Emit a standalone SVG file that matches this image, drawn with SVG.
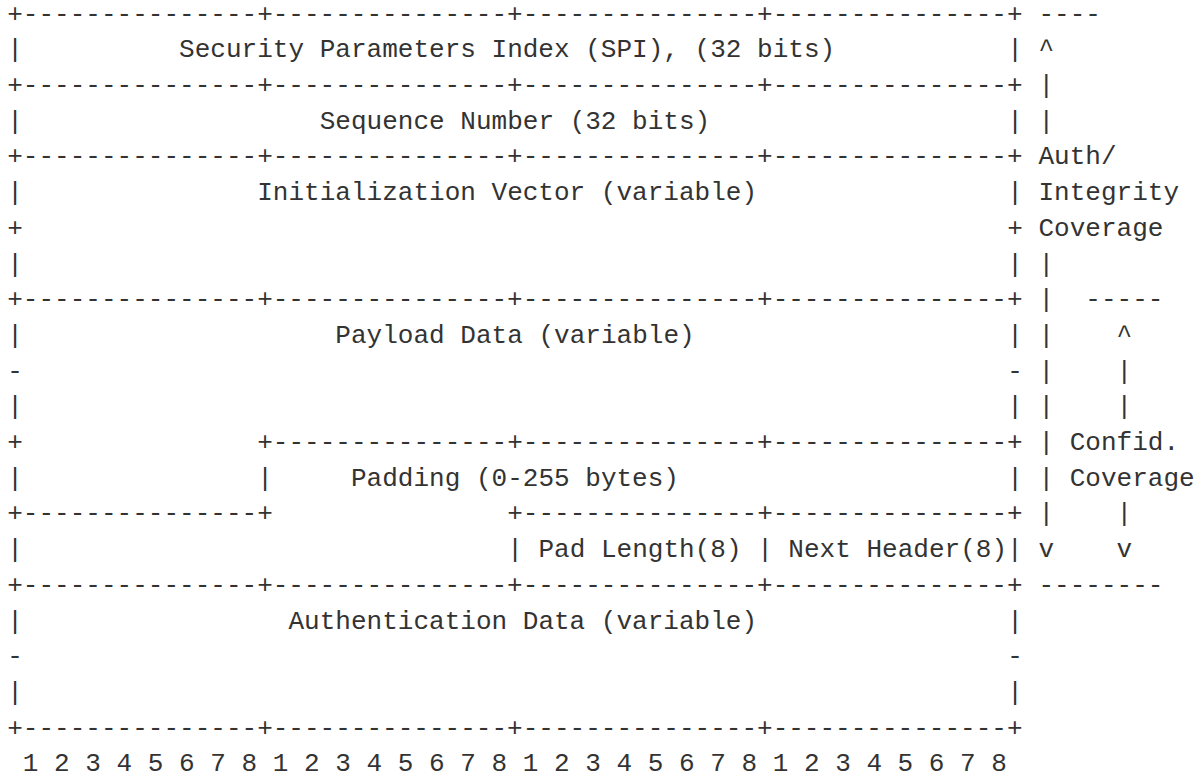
<svg xmlns="http://www.w3.org/2000/svg" width="1201" height="776" viewBox="0 0 1201 776">
<style>
text{font-family:"Liberation Mono","DejaVu Sans Mono",monospace;font-size:26.04px;fill:#333;white-space:pre}
</style>
<rect width="1201" height="776" fill="#fff"/>
<g id="connectors">
<text x="7.2" y="21.6">+---------------+---------------+---------------+---------------+</text>
<text x="7.2" y="93">+---------------+---------------+---------------+---------------+</text>
<text x="7.2" y="164.4">+---------------+---------------+---------------+---------------+</text>
<text x="7.2" y="307.2">+---------------+---------------+---------------+---------------+</text>
<text x="257.2" y="450">+---------------+---------------+---------------+</text>
<text x="7.2" y="521.4">+---------------+</text>
<text x="507.2" y="521.4">+---------------+---------------+</text>
<text x="7.2" y="592.8">+---------------+---------------+---------------+---------------+</text>
<text x="7.2" y="735.6">+---------------+---------------+---------------+---------------+</text>
</g>
<g id="spi">
<text x="7.2" y="57.3">|</text>
<text x="179.08" y="57.3">Security Parameters Index (SPI), (32 bits)</text>
<text x="1007.2" y="57.3">|</text>
</g>
<g id="seq">
<text x="7.2" y="128.7">|</text>
<text x="319.7" y="128.7">Sequence Number (32 bits)</text>
<text x="1007.2" y="128.7">|</text>
</g>
<g id="iv">
<text x="7.2" y="200.1">|</text>
<text x="257.2" y="200.1">Initialization Vector (variable)</text>
<text x="1007.2" y="200.1">|</text>
<text x="7.2" y="235.8">+</text>
<text x="1007.2" y="235.8">+</text>
<text x="7.2" y="271.5">|</text>
<text x="1007.2" y="271.5">|</text>
</g>
<g id="payload">
<text x="7.2" y="342.9">|</text>
<text x="335.33" y="342.9">Payload Data (variable)</text>
<text x="1007.2" y="342.9">|</text>
<text x="7.2" y="378.6">-</text>
<text x="1007.2" y="378.6">-</text>
<text x="7.2" y="414.3">|</text>
<text x="1007.2" y="414.3">|</text>
<text x="7.2" y="450">+</text>
</g>
<g id="padding">
<text x="7.2" y="485.7">|</text>
<text x="257.2" y="485.7">|</text>
<text x="350.95" y="485.7">Padding (0-255 bytes)</text>
<text x="1007.2" y="485.7">|</text>
<text x="7.2" y="557.1">|</text>
</g>
<g id="padlen-nexthdr">
<text x="507.2" y="557.1">| Pad Length(8) | Next Header(8)|</text>
</g>
<g id="auth">
<text x="7.2" y="628.5">|</text>
<text x="288.45" y="628.5">Authentication Data (variable)</text>
<text x="1007.2" y="628.5">|</text>
<text x="7.2" y="664.2">-</text>
<text x="1007.2" y="664.2">-</text>
<text x="7.2" y="699.9">|</text>
<text x="1007.2" y="699.9">|</text>
</g>
<g id="bits">
<text x="22.83" y="771.3">1 2 3 4 5 6 7 8 1 2 3 4 5 6 7 8 1 2 3 4 5 6 7 8 1 2 3 4 5 6 7 8</text>
</g>
<g id="auth-coverage">
<text x="1038.45" y="21.6">----</text>
<text x="1038.45" y="57.3">^</text>
<text x="1038.45" y="93">|</text>
<text x="1038.45" y="128.7">|</text>
<text x="1038.45" y="164.4">Auth/</text>
<text x="1038.45" y="200.1">Integrity</text>
<text x="1038.45" y="235.8">Coverage</text>
<text x="1038.45" y="271.5">|</text>
<text x="1038.45" y="307.2">|</text>
<text x="1038.45" y="342.9">|</text>
<text x="1038.45" y="378.6">|</text>
<text x="1038.45" y="414.3">|</text>
<text x="1038.45" y="450">|</text>
<text x="1038.45" y="485.7">|</text>
<text x="1038.45" y="521.4">|</text>
<text x="1038.45" y="557.1">v</text>
<text x="1038.45" y="592.8">--------</text>
</g>
<g id="confid-coverage">
<text x="1085.33" y="307.2">-----</text>
<text x="1116.58" y="342.9">^</text>
<text x="1116.58" y="378.6">|</text>
<text x="1116.58" y="414.3">|</text>
<text x="1069.7" y="450">Confid.</text>
<text x="1069.7" y="485.7">Coverage</text>
<text x="1116.58" y="521.4">|</text>
<text x="1116.58" y="557.1">v</text>
</g>
</svg>
